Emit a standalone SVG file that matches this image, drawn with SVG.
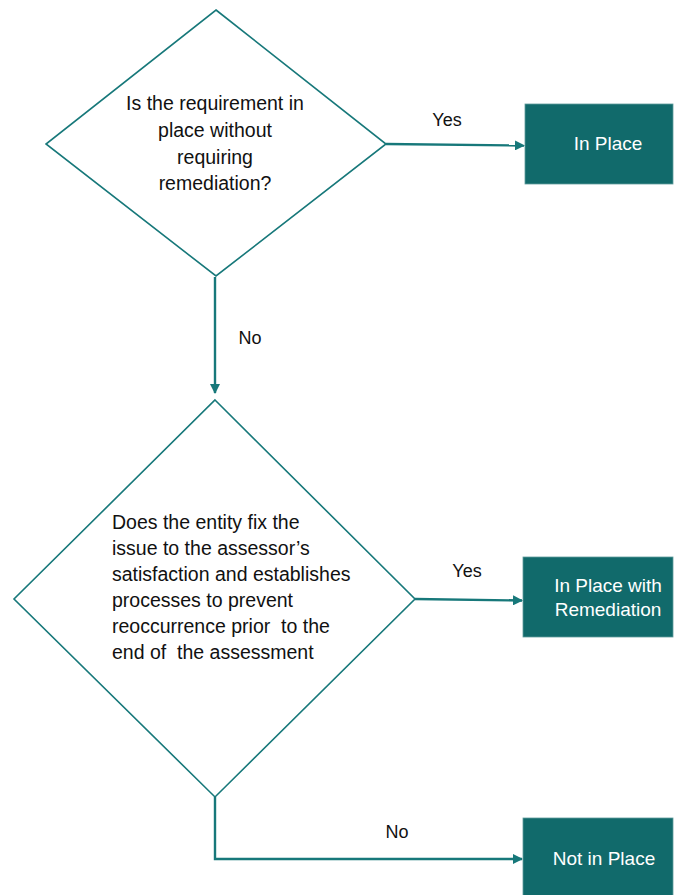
<svg xmlns="http://www.w3.org/2000/svg" width="674" height="895" viewBox="0 0 674 895">
  <style>
    .dia { fill: #ffffff; stroke: #17787a; stroke-width: 1.6; }
    .box { fill: #116a6b; stroke: #5f9c9c; stroke-width: 0.8; }
    .conn { fill: none; stroke: #17787a; stroke-width: 2.4; }
    .t { font-family: "Liberation Sans", Arial, sans-serif; font-size: 19.5px; fill: #111111; white-space: pre; }
    .lbl { font-family: "Liberation Sans", Arial, sans-serif; font-size: 18px; fill: #111111; text-anchor: middle; }
    .bt { font-family: "Liberation Sans", Arial, sans-serif; font-size: 19px; fill: #ffffff; text-anchor: middle; }
    .c { text-anchor: middle; }
  </style>
  <defs>
    <marker id="ah" markerWidth="10" markerHeight="10" refX="9" refY="5" orient="auto" markerUnits="userSpaceOnUse">
      <path d="M0,0 L10,5 L0,10 Z" fill="#17787a"/>
    </marker>
  </defs>
  <rect width="674" height="895" fill="#ffffff"/>

  <g id="connectors">
    <path class="conn" d="M386,144 L524,145.5" marker-end="url(#ah)"/>
    <text class="lbl" x="447" y="126">Yes</text>
    <path class="conn" d="M215,277 L215,393" marker-end="url(#ah)"/>
    <text class="lbl" x="250" y="344">No</text>
    <path class="conn" d="M415,599 L522,600.5" marker-end="url(#ah)"/>
    <text class="lbl" x="467" y="577">Yes</text>
    <path class="conn" d="M215,797 L215,859 L522,859" marker-end="url(#ah)"/>
    <text class="lbl" x="397" y="838">No</text>
  </g>

  <g id="q1">
    <polygon class="dia" points="216,10 386,144 216,276 46,144"/>
    <text class="t c" x="215" y="110">Is the requirement in</text>
    <text class="t c" x="215" y="137">place without</text>
    <text class="t c" x="215" y="164">requiring</text>
    <text class="t c" x="215" y="190">remediation?</text>
  </g>

  <g id="in-place">
    <rect class="box" x="525" y="104" width="148" height="80"/>
    <text class="bt" x="608" y="150">In Place</text>
  </g>

  <g id="q2">
    <polygon class="dia" points="215,400 415,599 215,797 14,599"/>
    <text class="t" x="112" y="529">Does the entity fix the</text>
    <text class="t" x="112" y="555">issue to the assessor’s</text>
    <text class="t" x="112" y="581">satisfaction and establishes</text>
    <text class="t" x="112" y="607">processes to prevent</text>
    <text class="t" x="112" y="633">reoccurrence prior  to the</text>
    <text class="t" x="112" y="659">end of  the assessment</text>
  </g>

  <g id="in-place-remediation">
    <rect class="box" x="523" y="557" width="150" height="80"/>
    <text class="bt" x="608" y="592">In Place with</text>
    <text class="bt" x="608" y="616">Remediation</text>
  </g>

  <g id="not-in-place">
    <rect class="box" x="523" y="818" width="150" height="82"/>
    <text class="bt" x="604" y="865">Not in Place</text>
  </g>
</svg>
